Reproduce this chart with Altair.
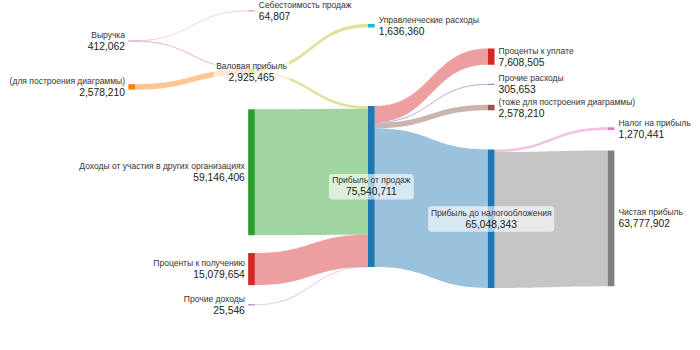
import altair as alt
import pandas as pd
import numpy as np

# ---------------- data ----------------
NODES = [
    "Выручка",
    "(для построения диаграммы)",
    "Себестоимость продаж",
    "Валовая прибыль",
    "Доходы от участия в других организациях",
    "Проценты к получению",
    "Прочие доходы",
    "Управленческие расходы",
    "Прибыль от продаж",
    "Проценты к уплате",
    "Прочие расходы",
    "(тоже для построения диаграммы)",
    "Прибыль до налогообложения",
    "Налог на прибыль",
    "Чистая прибыль",
]
NODE_VALUES = [412062, 2578210, 64807, 2925465, 59146406, 15079654, 25546,
               1636360, 75540711, 7608505, 305653, 2578210, 65048343, 1270441, 63777902]

LINK_SOURCE = [0, 0, 1, 3, 3, 4, 5, 6, 8, 8, 8, 8, 12, 12]
LINK_TARGET = [2, 3, 3, 7, 8, 8, 8, 8, 9, 10, 11, 12, 13, 14]
LINK_VALUE = [64807, 347255, 2578210, 1636360, 1289105, 59146406, 15079654, 25546,
              7608505, 305653, 2578210, 65048343, 1270441, 63777902]

# ---------------- layout & style (not data) ----------------
NODE_COL = [0, 0, 1, 1, 1, 1, 1, 2, 2, 3, 3, 3, 3, 4, 4]
NODE_TOP_M = [19.06, 39.53, 5.07, 32.16, 51.31, 118.78, 143.1,
              11.27, 49.77, 22.77, 39.44, 49.2, 70.14, 59.77, 70.66]  # in millions
LABEL_SIDE = ["left", "left", "right", "center", "left", "left", "left",
              "right", "center", "right", "right", "right", "center", "right", "right"]
NODE_COLOR = ["#e377c2", "#ff7f0e", "#e377c2", "#bcbd22", "#2ca02c", "#d62728", "#9467bd",
              "#17becf", "#1f77b4", "#d62728", "#9467bd", "#8c564b", "#1f77b4", "#e377c2", "#7f7f7f"]
LINK_COLOR = ["#e377c2", "#e377c2", "#ff7f0e", "#bcbd22", "#bcbd22", "#2ca02c", "#d62728",
              "#9467bd", "#d62728", "#9467bd", "#8c564b", "#1f77b4", "#e377c2", "#7f7f7f"]

W, H = 700, 350
PX_PER_UNIT = 2.13e-6          # vertical pixels per value unit
COL_STEP = 119.85              # px between columns
COL0 = 128.3                   # px of first column
NODE_W = 6.7 / COL_STEP        # node width in column units
X_DOMAIN = [-COL0 / COL_STEP, (W - COL0) / COL_STEP]
Y_DOMAIN = [0, H / PX_PER_UNIT]
PX = 1 / PX_PER_UNIT           # one pixel in value units
FONT = "Liberation Sans"

# ---------------- geometry ----------------
node_top = [t * 1e6 for t in NODE_TOP_M]
out_off = [0.0] * len(NODES)
in_off = [0.0] * len(NODES)

link_rows = []
line_rows = []
s = np.linspace(0, 1, 41)
for i, (a, b, v) in enumerate(zip(LINK_SOURCE, LINK_TARGET, LINK_VALUE)):
    x0 = NODE_COL[a] + NODE_W
    x1 = NODE_COL[b]
    ys0 = node_top[a] + out_off[a]
    ys1 = node_top[b] + in_off[b]
    out_off[a] += v
    in_off[b] += v
    fx = 1.5 * s * (1 - s) + s ** 3
    fy = 3 * s ** 2 - 2 * s ** 3
    xs = x0 + (x1 - x0) * fx
    top = ys0 + (ys1 - ys0) * fy
    for xx, tt in zip(xs, top):
        link_rows.append({"link": i, "x": xx, "y": tt, "y2": tt + v, "color": LINK_COLOR[i]})
        if v * PX_PER_UNIT < 1.2:
            line_rows.append({"link": i, "x": xx, "y": tt + v / 2, "color": LINK_COLOR[i]})

links_df = pd.DataFrame(link_rows)
lines_df = pd.DataFrame(line_rows)

node_rows = []
for i, name in enumerate(NODES):
    h = max(NODE_VALUES[i], PX)
    mid = node_top[i] + NODE_VALUES[i] / 2
    xl = NODE_COL[i]
    xr = NODE_COL[i] + NODE_W
    xc = (xl + xr) / 2
    tw = (4.58 * len(name) + 7) / COL_STEP
    node_rows.append({
        "name": name, "val": f"{NODE_VALUES[i]:,}",
        "x": xl, "x2": xr, "xc": xc,
        "y": mid - h / 2, "y2": mid + h / 2, "mid": mid,
        "color": NODE_COLOR[i], "side": LABEL_SIDE[i],
        "bx": xc - tw / 2, "bx2": xc + tw / 2,
        "by": mid - 12.5 * PX, "by2": mid + 13 * PX,
    })
nodes_df = pd.DataFrame(node_rows)

xs_ = alt.Scale(domain=X_DOMAIN, nice=False, zero=False)
ys_ = alt.Scale(domain=Y_DOMAIN, reverse=True, nice=False, zero=False)

areas = alt.Chart(links_df).mark_area(opacity=0.45, interpolate="linear").encode(
    x=alt.X("x:Q", scale=xs_, axis=None),
    y=alt.Y("y:Q", scale=ys_, axis=None, stack=None),
    y2="y2:Q",
    color=alt.Color("color:N", scale=None),
    detail="link:N",
)

thin = alt.Chart(lines_df).mark_line(opacity=0.32, strokeWidth=1).encode(
    x=alt.X("x:Q", scale=xs_, axis=None),
    y=alt.Y("y:Q", scale=ys_, axis=None),
    color=alt.Color("color:N", scale=None),
    detail="link:N",
)

nodes = alt.Chart(nodes_df).mark_rect().encode(
    x=alt.X("x:Q", scale=xs_, axis=None),
    x2="x2:Q",
    y=alt.Y("y:Q", scale=ys_, axis=None),
    y2="y2:Q",
    color=alt.Color("color:N", scale=None),
)

center_df = nodes_df[nodes_df.side == "center"]
boxes = alt.Chart(center_df).mark_rect(fill="white", opacity=0.62, cornerRadius=3).encode(
    x=alt.X("bx:Q", scale=xs_, axis=None),
    x2="bx2:Q",
    y=alt.Y("by:Q", scale=ys_, axis=None),
    y2="by2:Q",
)

layers = [areas, thin, nodes, boxes]
for side, xfield, align, dx in [("left", "x", "right", -3.3), ("right", "x2", "left", 4),
                                ("center", "xc", "center", 0)]:
    sub = nodes_df[nodes_df.side == side]
    base = alt.Chart(sub).encode(
        x=alt.X(f"{xfield}:Q", scale=xs_, axis=None),
        y=alt.Y("mid:Q", scale=ys_, axis=None),
    )
    layers.append(base.mark_text(align=align, baseline="alphabetic", dx=dx, dy=-3,
                                 font=FONT, fontSize=8.5, color="#333333").encode(text="name:N"))
    layers.append(base.mark_text(align=align, baseline="alphabetic", dx=dx, dy=9,
                                 font=FONT, fontSize=10.3, color="#1a1a1a").encode(text="val:N"))

chart = alt.layer(*layers).properties(
    width=W, height=H, padding=0, autosize="none"
).configure_view(stroke=None)

chart.save("out.html", embed_options={"renderer": "svg", "actions": False})
